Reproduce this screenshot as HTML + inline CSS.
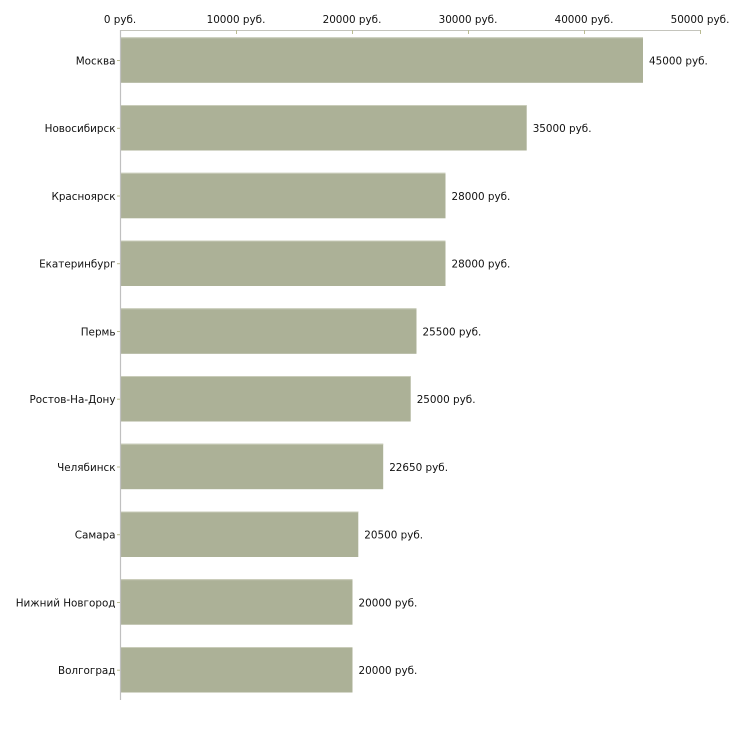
<!DOCTYPE html>
<html><head><meta charset="utf-8"><style>
html,body{margin:0;padding:0;background:#fff;}
svg{display:block;}
text{font-family:"DejaVu Sans","Liberation Sans",sans-serif;font-size:10.4px;fill:#111;}
</style></head><body>
<svg width="730" height="730" viewBox="0 0 730 730" xmlns="http://www.w3.org/2000/svg">
<!-- top axis -->
<line x1="120" y1="30.5" x2="701" y2="30.5" stroke="#c4c4bc" stroke-width="1"/>
<g stroke="#b9bb92" stroke-width="1">
<line x1="120.5" y1="30" x2="120.5" y2="34"/>
<line x1="236.5" y1="30" x2="236.5" y2="34"/>
<line x1="352.5" y1="30" x2="352.5" y2="34"/>
<line x1="468.5" y1="30" x2="468.5" y2="34"/>
<line x1="584.5" y1="30" x2="584.5" y2="34"/>
<line x1="700.5" y1="30" x2="700.5" y2="34"/>
</g>
<g text-anchor="middle">
<text x="120" y="23">0 руб.</text>
<text x="236" y="23">10000 руб.</text>
<text x="352" y="23">20000 руб.</text>
<text x="468" y="23">30000 руб.</text>
<text x="584" y="23">40000 руб.</text>
<text x="700" y="23">50000 руб.</text>
</g>
<!-- bars -->
<g fill="#acb197">
<rect x="121" y="37.3" width="522" height="45.5"/>
<rect x="121" y="105" width="405.7" height="45.5"/>
<rect x="121" y="172.8" width="324.5" height="45.5"/>
<rect x="121" y="240.5" width="324.5" height="45.5"/>
<rect x="121" y="308.3" width="295.5" height="45.5"/>
<rect x="121" y="376" width="289.7" height="45.5"/>
<rect x="121" y="443.7" width="262.2" height="45.5"/>
<rect x="121" y="511.5" width="237.3" height="45.5"/>
<rect x="121" y="579.2" width="231.5" height="45.5"/>
<rect x="121" y="647" width="231.5" height="45.5"/>
</g>
<g fill="#c9ccb9">
<rect x="121" y="37.3" width="522" height="1"/>
<rect x="121" y="105" width="405.7" height="1"/>
<rect x="121" y="172.8" width="324.5" height="1"/>
<rect x="121" y="240.5" width="324.5" height="1"/>
<rect x="121" y="308.3" width="295.5" height="1"/>
<rect x="121" y="376" width="289.7" height="1"/>
<rect x="121" y="443.7" width="262.2" height="1"/>
<rect x="121" y="511.5" width="237.3" height="1"/>
<rect x="121" y="579.2" width="231.5" height="1"/>
<rect x="121" y="647" width="231.5" height="1"/>
</g>
<!-- vertical axis -->
<line x1="120.5" y1="30" x2="120.5" y2="700" stroke="#c0c0c0" stroke-width="1.2"/>
<!-- left ticks -->
<g stroke="#b9bb92" stroke-width="1">
<line x1="117" y1="60.5" x2="120" y2="60.5"/>
<line x1="117" y1="128.3" x2="120" y2="128.3"/>
<line x1="117" y1="196" x2="120" y2="196"/>
<line x1="117" y1="263.7" x2="120" y2="263.7"/>
<line x1="117" y1="331.5" x2="120" y2="331.5"/>
<line x1="117" y1="399.2" x2="120" y2="399.2"/>
<line x1="117" y1="467" x2="120" y2="467"/>
<line x1="117" y1="534.7" x2="120" y2="534.7"/>
<line x1="117" y1="602.5" x2="120" y2="602.5"/>
<line x1="117" y1="670.2" x2="120" y2="670.2"/>
</g>
<!-- category labels -->
<g text-anchor="end">
<text x="115.5" y="64.3">Москва</text>
<text x="115.5" y="132">Новосибирск</text>
<text x="115.5" y="199.8">Красноярск</text>
<text x="115.5" y="267.5">Екатеринбург</text>
<text x="115.5" y="335.3">Пермь</text>
<text x="115.5" y="403">Ростов-На-Дону</text>
<text x="115.5" y="470.8">Челябинск</text>
<text x="115.5" y="538.5">Самара</text>
<text x="115.5" y="606.3">Нижний Новгород</text>
<text x="115.5" y="674">Волгоград</text>
</g>
<!-- value labels -->
<g>
<text x="649" y="64.3">45000 руб.</text>
<text x="532.7" y="132">35000 руб.</text>
<text x="451.5" y="199.8">28000 руб.</text>
<text x="451.5" y="267.5">28000 руб.</text>
<text x="422.5" y="335.3">25500 руб.</text>
<text x="416.7" y="403">25000 руб.</text>
<text x="389.2" y="470.8">22650 руб.</text>
<text x="364.3" y="538.5">20500 руб.</text>
<text x="358.5" y="606.3">20000 руб.</text>
<text x="358.5" y="674">20000 руб.</text>
</g>
</svg>
</body></html>
